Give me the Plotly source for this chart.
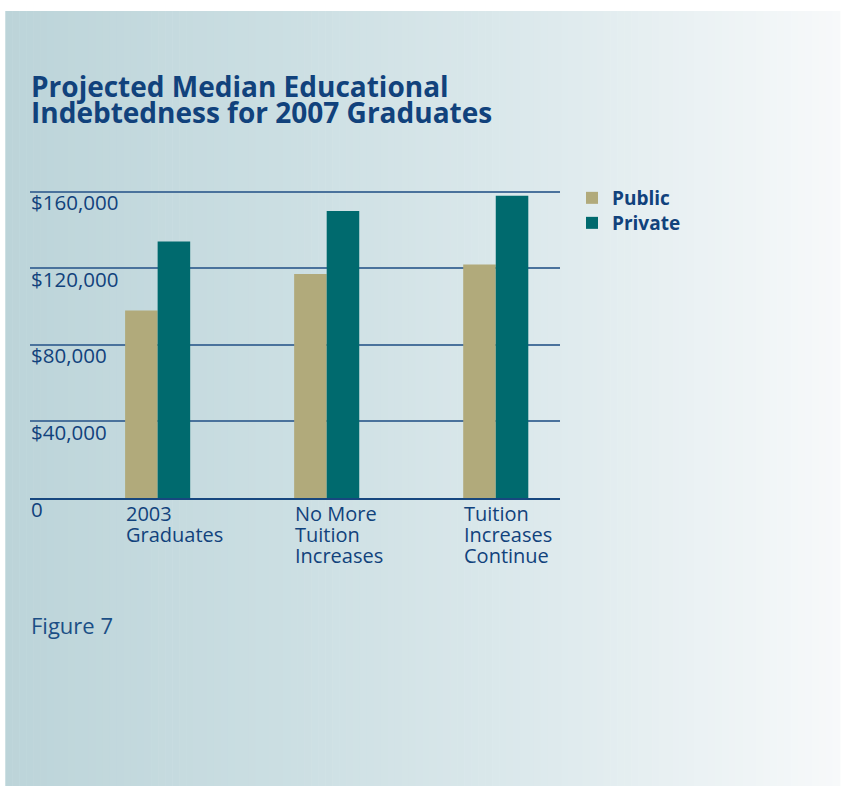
import plotly.graph_objects as go

# Data
categories = ["2003 Graduates", "No More Tuition Increases", "Tuition Increases Continue"]
category_lines = [["2003", "Graduates"], ["No More", "Tuition", "Increases"], ["Tuition", "Increases", "Continue"]]
public_debt = [98000, 117000, 122000]
private_debt = [134000, 150000, 158000]
tick_values = [0, 40000, 80000, 120000, 160000]
tick_labels = ["0", "$40,000", "$80,000", "$120,000", "$160,000"]

# Figure geometry (pixels)
FIG_W, FIG_H = 849, 786
M_L, M_R, M_T, M_B = 30, 283, 188, 288
PLOT_W = FIG_W - M_L - M_R
PLOT_H = FIG_H - M_T - M_B

TEXT_BLUE = "#11427c"
FONT = "Open Sans"


def px_x(p):
    return (p - M_L) / PLOT_W


def px_y(p):
    return (FIG_H - M_B - p) / PLOT_H


# Soft horizontal gradient panel behind the chart
stops = [(5, (188, 212, 217)), (300, (204, 223, 227)), (560, (222, 234, 237)), (849, (247, 249, 250))]


def grad_color(x):
    for (x0, c0), (x1, c1) in zip(stops[:-1], stops[1:]):
        if x0 <= x <= x1:
            t = (x - x0) / (x1 - x0)
            return "rgb(%d,%d,%d)" % tuple(round(a + (b - a) * t) for a, b in zip(c0, c1))
    return "rgb(%d,%d,%d)" % stops[-1][1]


shapes = []
n_strips = 120
x_left, x_right = 5, FIG_W
for i in range(n_strips):
    xa = x_left + (x_right - x_left) * i / n_strips
    xb = x_left + (x_right - x_left) * (i + 1) / n_strips + 0.6
    shapes.append(dict(
        type="rect", xref="paper", yref="paper", layer="below",
        x0=px_x(xa), x1=px_x(xb), y0=px_y(FIG_H), y1=px_y(11),
        fillcolor=grad_color((xa + xb) / 2), line=dict(width=0),
    ))

fig = go.Figure()
fig.add_trace(go.Bar(name="Public", x=categories, y=public_debt, legend="legend",
                     marker=dict(color="#b1aa7b", line=dict(width=0))))
fig.add_trace(go.Bar(name="Private", x=categories, y=private_debt, legend="legend2",
                     marker=dict(color="#006a6e", line=dict(width=0))))

annotations = []
# Title, two tightly spaced lines
for i, line in enumerate(["Projected Median Educational", "Indebtedness for 2007 Graduates"]):
    annotations.append(dict(
        text="<b>%s</b>" % line, xref="paper", yref="paper",
        x=px_x(29), y=px_y(65 + i * 25.5), xanchor="left", yanchor="top",
        showarrow=False, font=dict(family=FONT, size=28, color=TEXT_BLUE),
    ))

# Value-axis labels sitting just under each gridline
for v, lab in zip(tick_values, tick_labels):
    annotations.append(dict(
        text=lab, xref="paper", yref="y", x=0, y=v,
        xanchor="left", yanchor="top", xshift=-1, yshift=5.5,
        showarrow=False, font=dict(family=FONT, size=20.5, color=TEXT_BLUE),
    ))

# Category labels, left-aligned below each group
for cat, lines in zip(categories, category_lines):
    for k, line in enumerate(lines):
        annotations.append(dict(
            text=line, xref="x", yref="y", x=cat, y=0,
            xanchor="left", yanchor="top", xshift=-34, yshift=0 - 21.2 * k,
            showarrow=False, font=dict(family=FONT, size=20, color=TEXT_BLUE),
        ))

annotations.append(dict(
    text="Figure 7", xref="paper", yref="paper", x=px_x(29), y=px_y(607.5),
    xanchor="left", yanchor="top", showarrow=False,
    font=dict(family=FONT, size=22, color="#1b4f86"),
))

legend_style = dict(
    xref="container", yref="container", x=572 / FIG_W,
    xanchor="left", yanchor="top", bgcolor="rgba(0,0,0,0)",
    font=dict(family=FONT, size=19, color=TEXT_BLUE, weight="bold"),
    itemclick=False,
)

fig.update_layout(
    width=FIG_W, height=FIG_H,
    margin=dict(l=M_L, r=M_R, t=M_T, b=M_B, pad=0),
    paper_bgcolor="white", plot_bgcolor="rgba(0,0,0,0)",
    barmode="group", bargap=0.615, bargroupgap=0,
    showlegend=True,
    legend=dict(legend_style, y=1 - 179 / FIG_H),
    legend2=dict(legend_style, y=1 - 204 / FIG_H),
    shapes=shapes,
    annotations=annotations,
    xaxis=dict(
        range=[-0.755, 2.38], showticklabels=False, ticks="",
        showgrid=False, zeroline=False,
        showline=True, linecolor="#17477f", linewidth=2,
    ),
    yaxis=dict(
        range=[0, 162000], tickvals=tick_values, showticklabels=False, ticks="",
        showgrid=True, gridcolor="#4a729c", gridwidth=1.6,
        zeroline=False, showline=False,
    ),
)

fig.write_html("out.html")
